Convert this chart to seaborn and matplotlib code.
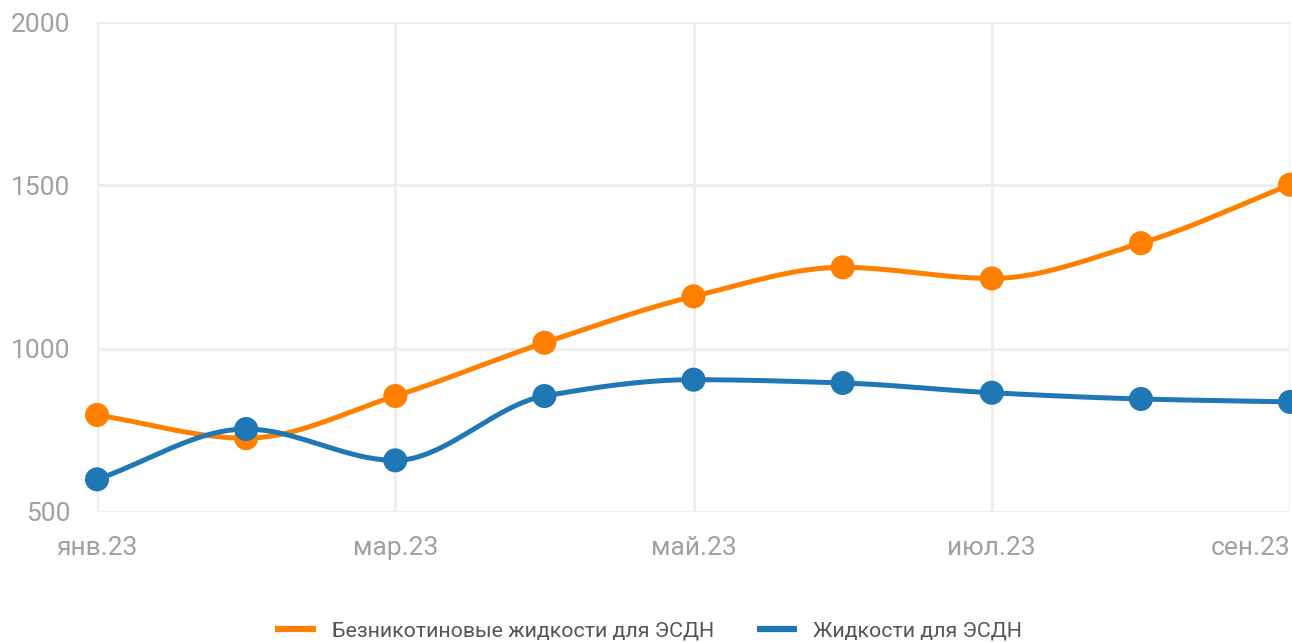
import numpy as np
import pandas as pd
import matplotlib
matplotlib.use("Agg")
import matplotlib.pyplot as plt
import seaborn as sns

# данные
months = ["янв.23", "фев.23", "мар.23", "апр.23", "май.23", "июн.23", "июл.23", "авг.23", "сен.23"]
nicotine_free = [797, 726, 855, 1018, 1160, 1249, 1215, 1323, 1502]
liquids = [600, 754, 658, 855, 905, 895, 865, 846, 837]
series_names = ["Безникотиновые жидкости для ЭСДН", "Жидкости для ЭСДН"]
colors = ["#ff8000", "#1f77b4"]


def monotone_curve(y, n=40):
    # сглаживание линии (монотонный кубический сплайн Фрича-Карлсона)
    y = np.asarray(y, dtype=float)
    x = np.arange(len(y), dtype=float)
    d = np.diff(y)
    m = np.zeros_like(y)
    m[0], m[-1] = d[0], d[-1]
    for i in range(1, len(y) - 1):
        if d[i - 1] * d[i] > 0:
            m[i] = 2 / (1 / d[i - 1] + 1 / d[i])
    xs, ys = [], []
    for i in range(len(y) - 1):
        t = np.linspace(0, 1, n, endpoint=(i == len(y) - 2))
        h00 = 2 * t**3 - 3 * t**2 + 1
        h10 = t**3 - 2 * t**2 + t
        h01 = -2 * t**3 + 3 * t**2
        h11 = t**3 - t**2
        xs.append(x[i] + t)
        ys.append(h00 * y[i] + h10 * m[i] + h01 * y[i + 1] + h11 * m[i + 1])
    return np.concatenate(xs), np.concatenate(ys)


sns.set_theme(style="white")
plt.rcParams["font.family"] = ["Roboto", "DejaVu Sans"]

pts = pd.DataFrame({
    "x": list(range(len(months))) * 2,
    "value": nicotine_free + liquids,
    "series": [series_names[0]] * len(months) + [series_names[1]] * len(months),
})
curves = []
for name, vals in zip(series_names, [nicotine_free, liquids]):
    cx, cy = monotone_curve(vals)
    curves.append(pd.DataFrame({"x": cx, "value": cy, "series": name}))
curves = pd.concat(curves, ignore_index=True)

fig = plt.figure(figsize=(12.92, 6.42), dpi=100)
ax = fig.add_axes([0.0751, 0.2025, 0.9234, 0.7632])

sns.lineplot(data=curves, x="x", y="value", hue="series", palette=colors,
             linewidth=3.6, ax=ax, sort=False, estimator=None, clip_on=False, zorder=3)
sns.scatterplot(data=pts, x="x", y="value", hue="series", palette=colors,
                s=300, linewidth=0, ax=ax, legend=False, clip_on=False, zorder=4)

ax.set_xlim(0, len(months) - 1)
ax.set_ylim(500, 2000)
ax.set_xticks(range(0, len(months), 2))
ax.set_xticklabels(months[::2])
ax.get_xticklabels()[-1].set_horizontalalignment("right")
ax.set_yticks([500, 1000, 1500, 2000])
ax.set_xlabel("")
ax.set_ylabel("")
ax.grid(True, color="#eeeeee", linewidth=2.2, zorder=0)
ax.set_axisbelow(True)
for s in ax.spines.values():
    s.set_visible(False)
ax.tick_params(axis="both", length=0, labelsize=19, labelcolor="#a0a0a0")
ax.tick_params(axis="y", pad=19)
ax.tick_params(axis="x", pad=17)

leg = ax.legend(loc="center", bbox_to_anchor=(0.502, 0.017), bbox_transform=fig.transFigure,
                ncol=2, frameon=False, fontsize=15.4, handlelength=1.9, handletextpad=0.75,
                columnspacing=2.0, borderaxespad=0)
for line in leg.get_lines():
    line.set_linewidth(4.5)
    line.set_solid_capstyle("butt")
for t in leg.get_texts():
    t.set_color("#555555")

fig.savefig("out.png", dpi=100)
